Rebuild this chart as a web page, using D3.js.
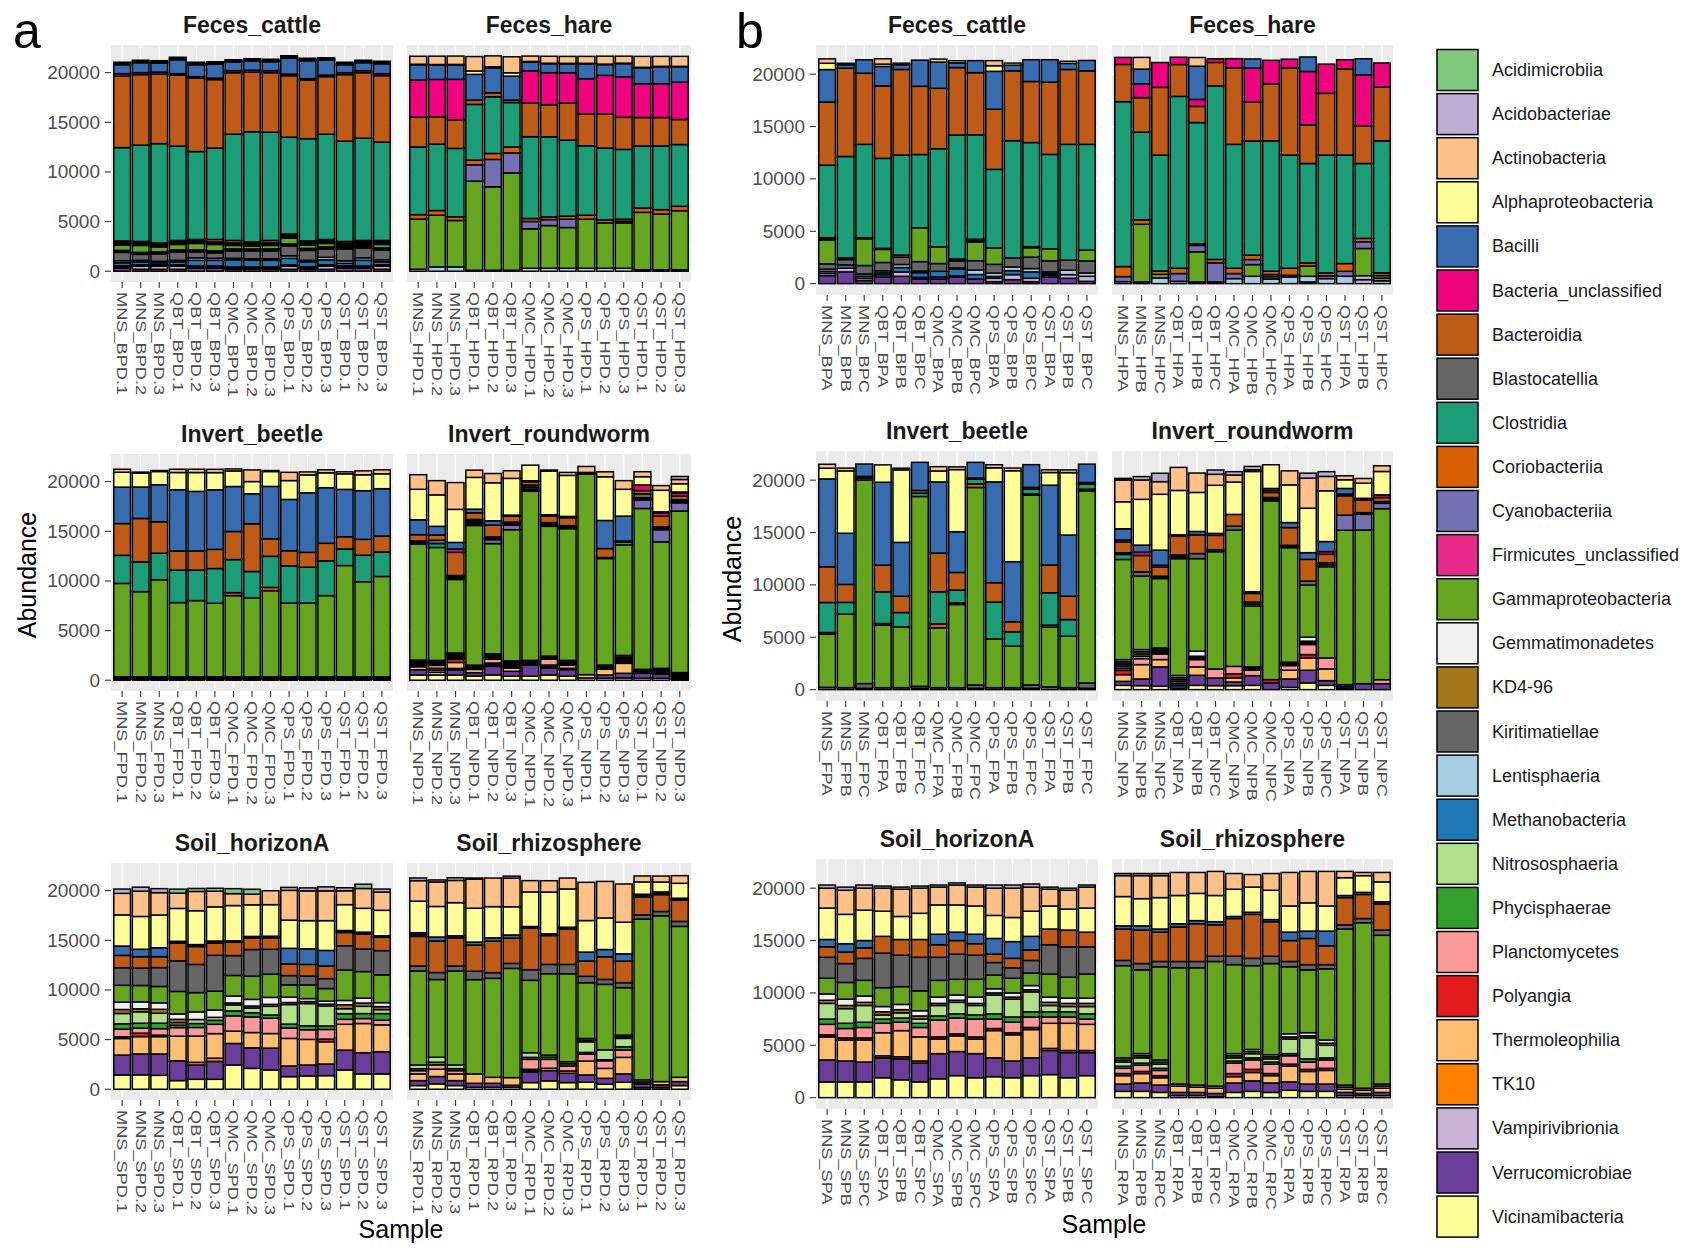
<!DOCTYPE html>
<html>
<head>
<meta charset="utf-8">
<script src="https://cdn.jsdelivr.net/npm/d3@7"></script>
<style>
  body { margin: 0; background: #fff; }
  svg { display: block; font-family: "Liberation Sans", Arial, sans-serif; }
</style>
</head>
<body>
<svg id="chart" width="1689" height="1248"></svg>
<script>
// class order = legend order (first level is stacked on top)
const classes = ["Acidimicrobiia","Acidobacteriae","Actinobacteria","Alphaproteobacteria","Bacilli",
  "Bacteria_unclassified","Bacteroidia","Blastocatellia","Clostridia","Coriobacteriia","Cyanobacteriia",
  "Firmicutes_unclassified","Gammaproteobacteria","Gemmatimonadetes","KD4-96","Kiritimatiellae",
  "Lentisphaeria","Methanobacteria","Nitrososphaeria","Phycisphaerae","Planctomycetes","Polyangia",
  "Thermoleophilia","TK10","Vampirivibrionia","Verrucomicrobiae","Vicinamibacteria"];
const classColors = ["#7FC97F","#BEAED4","#FDC086","#FFFF99","#386CB0","#F0027F","#BF5B17","#666666",
  "#1B9E77","#D95F02","#7570B3","#E7298A","#66A61E","#F0F0F0","#A6761D","#666666","#A6CEE3","#1F78B4",
  "#B2DF8A","#33A02C","#FB9A99","#E31A1C","#FDBF6F","#FF7F00","#CAB2D6","#6A3D9A","#FFFF99"];

const facetNames = ["Feces_cattle","Feces_hare","Invert_beetle","Invert_roundworm","Soil_horizonA","Soil_rhizosphere"];
const sites = ["MNS","QBT","QMC","QPS","QST"];
const codesA = ["_BPD","_HPD","_FPD","_NPD","_SPD","_RPD"];
const repsA = [".1",".2",".3"];
const codesB = ["_BP","_HP","_FP","_NP","_SP","_RP"];
const repsB = ["A","B","C"];
const yTicks = [0,5000,10000,15000,20000];

// ---------- panel a ----------
const aFecesCattle = [
  ["Actinobacteria", [150,150,150,150,150,150,150,150,150,150,150,150,150,150,150]],
  ["Alphaproteobacteria", [100,100,100,100,100,100,100,100,100,100,100,100,100,100,100]],
  ["Bacilli", [900,1000,900,1400,1200,1400,850,900,900,1600,1800,1500,800,800,1000]],
  ["Bacteria_unclassified", [250,200,200,150,150,150,200,200,200,150,150,150,200,200,200]],
  ["Bacteroidia", [7200,7100,7000,7150,7400,6900,6200,6000,6000,6200,5900,5800,6700,6600,6700]],
  ["Clostridia", [9400,9700,10000,9500,8850,9200,10700,11100,10900,9750,10300,10600,10100,10300,9900]],
  ["Coriobacteriia", [150,150,150,150,150,250,250,150,250,150,150,150,150,150,150]],
  ["Cyanobacteriia", [100,100,100,100,100,100,100,100,100,100,100,100,100,100,100]],
  ["Firmicutes_unclassified", [150,150,150,150,150,150,150,150,150,150,150,150,150,150,150]],
  ["Gammaproteobacteria", [550,700,500,550,650,650,350,300,350,600,350,350,150,150,350]],
  ["Gemmatimonadetes", [100,100,100,100,100,100,100,100,100,100,100,100,100,100,100]],
  ["KD4-96", [100,100,100,100,100,100,100,100,100,100,100,100,100,100,100]],
  ["Kiritimatiellae", [850,600,750,850,600,550,750,800,800,1000,1000,850,1200,1000,1000]],
  ["Lentisphaeria", [200,150,150,150,250,200,150,150,150,250,150,250,250,250,200]],
  ["Methanobacteria", [300,300,200,300,550,550,700,650,650,650,500,500,250,550,300]],
  ["Phycisphaerae", [50,50,50,50,50,50,50,50,50,50,50,50,50,50,50]],
  ["Planctomycetes", [50,50,50,50,50,50,50,50,50,50,50,50,50,50,50]],
  ["Thermoleophilia", [50,50,50,50,50,50,50,50,50,50,50,50,50,50,50]],
  ["Vampirivibrionia", [100,300,300,300,100,100,100,100,100,300,100,300,100,100,300]],
  ["Verrucomicrobiae", [300,200,200,200,300,300,200,200,200,200,200,200,300,300,200]]
];
const aFecesHare = [
  ["Actinobacteria", [800,840,840,1450,1100,1610,540,700,700,700,800,700,1100,1000,1000]],
  ["Alphaproteobacteria", [50,50,50,340,100,340,50,50,50,50,50,50,50,50,50]],
  ["Bacilli", [1550,1450,1450,2590,2520,2420,900,900,900,1500,1080,1340,1610,1710,1550]],
  ["Bacteria_unclassified", [3730,3760,4100,0,0,0,3230,3230,3030,3560,3900,4070,3400,3400,3760]],
  ["Bacteroidia", [3000,2760,2860,440,400,240,3400,3230,3760,3200,3430,3230,2860,2860,2520]],
  ["Clostridia", [6820,6690,6890,5610,5710,4470,8240,8070,7660,6990,7230,7030,6250,6420,6220]],
  ["Coriobacteriia", [450,470,370,470,600,600,300,270,300,400,300,200,440,440,440]],
  ["Cyanobacteriia", [0,0,0,1650,2760,2020,740,600,840,0,0,0,0,0,0]],
  ["Firmicutes_unclassified", [0,0,0,0,0,0,0,0,0,0,0,170,0,0,0]],
  ["Gammaproteobacteria", [5050,5200,4670,8970,8400,9800,3970,4300,4100,4940,4570,4570,5780,5610,5950]],
  ["Lentisphaeria", [200,440,440,100,100,100,300,300,300,300,300,300,150,150,150]]
];
const aInvertBeetle = [
  ["Actinobacteria", [300,100,100,330,330,330,200,1170,100,830,300,300,200,400,400]],
  ["Alphaproteobacteria", [1500,1400,1330,1730,1900,1730,1570,1230,1500,1900,1800,1500,1570,1600,1500]],
  ["Bacilli", [3670,3170,3730,6170,6000,6000,4530,3030,5270,5170,6000,5600,4770,4900,4770]],
  ["Bacteroidia", [3200,4370,3170,1930,1930,1930,2830,4800,1770,1530,1500,1770,1230,1600,1600]],
  ["Clostridia", [2830,3000,2670,3270,3070,3500,3330,2670,3130,3730,3600,3500,1670,2670,2470]],
  ["Coriobacteriia", [0,0,0,0,0,0,300,0,330,0,0,0,0,0,0]],
  ["Gammaproteobacteria", [9400,8570,9770,7470,7670,7400,8170,7930,8670,7430,7430,8170,11200,9570,10100]],
  ["Gemmatimonadetes", [50,50,50,50,50,50,50,50,50,50,50,50,50,50,50]],
  ["Kiritimatiellae", [100,100,100,100,100,100,100,100,100,100,100,100,100,100,100]],
  ["Verrucomicrobiae", [100,100,100,100,100,100,100,100,100,100,100,100,100,100,100]],
  ["Vicinamibacteria", [100,100,100,100,100,100,100,100,100,100,100,100,100,100,100]]
];
const aInvertRoundworm = [
  ["Acidobacteriae", [0,0,0,0,0,0,0,0,0,0,0,0,0,0,300]],
  ["Actinobacteria", [1470,1430,2700,730,930,770,0,100,300,600,500,870,500,470,430]],
  ["Alphaproteobacteria", [3070,3170,3330,3200,3830,3700,1570,4400,4130,0,4400,2700,830,2170,830]],
  ["Bacilli", [1500,870,670,370,430,0,0,0,0,0,2830,2500,0,100,100]],
  ["Bacteria_unclassified", [0,0,330,0,0,100,100,130,130,0,0,0,570,330,300]],
  ["Bacteroidia", [630,530,2330,670,1200,600,330,670,800,0,900,0,330,1070,370]],
  ["Blastocatellia", [170,330,130,150,130,100,200,120,100,80,50,130,400,100,110]],
  ["Clostridia", [160,400,130,150,140,100,200,120,100,90,50,270,100,100,110]],
  ["Coriobacteriia", [0,0,140,150,0,100,100,130,100,0,0,0,100,100,100]],
  ["Cyanobacteriia", [0,0,0,0,400,470,0,0,0,0,0,0,870,1230,830]],
  ["Firmicutes_unclassified", [0,0,0,150,0,0,130,0,0,0,0,0,0,0,0]],
  ["Gammaproteobacteria", [11670,11370,7400,14070,11100,13200,17030,13070,13270,20200,10730,11130,16200,12730,16270]],
  ["Gemmatimonadetes", [130,100,130,100,130,150,100,100,100,0,100,160,100,120,140]],
  ["KD4-96", [140,100,130,100,130,150,100,100,100,0,100,160,100,120,130]],
  ["Kiritimatiellae", [130,100,130,100,130,150,100,100,100,0,100,160,100,120,130]],
  ["Lentisphaeria", [130,100,120,70,70,140,70,0,100,0,70,160,50,120,130]],
  ["Methanobacteria", [140,100,120,60,70,140,100,0,70,0,60,160,50,120,140]],
  ["Planctomycetes", [0,300,0,0,400,0,0,600,330,0,0,0,0,0,0]],
  ["Polyangia", [0,200,330,0,110,0,0,100,70,0,0,0,0,0,0]],
  ["Thermoleophilia", [300,200,600,330,110,330,0,100,60,330,570,1000,0,0,0]],
  ["TK10", [0,0,0,0,110,0,0,100,0,0,0,0,0,0,0]],
  ["Vampirivibrionia", [0,270,130,0,0,0,0,0,0,0,0,0,0,0,0]],
  ["Verrucomicrobiae", [530,0,530,330,870,500,1130,700,670,0,330,470,500,400,0]],
  ["Vicinamibacteria", [530,530,530,430,530,400,400,530,400,230,200,230,200,200,100]]
];
const aSoilHorizonA = [
  ["Acidimicrobiia", [0,0,0,400,300,300,500,500,0,0,0,0,0,430,0]],
  ["Acidobacteriae", [430,400,400,0,0,0,0,0,0,300,300,400,300,0,300]],
  ["Actinobacteria", [2170,2550,2250,1540,1940,1570,1200,1070,1400,3000,3000,3000,1400,2000,1840]],
  ["Alphaproteobacteria", [3140,3300,3300,3310,3410,3440,3550,3180,3180,2840,2840,3000,2600,2400,2570]],
  ["Bacilli", [940,750,900,90,100,100,80,80,80,1570,1570,1570,100,100,80]],
  ["Bacteria_unclassified", [0,0,0,80,100,100,70,70,70,0,0,0,100,100,70]],
  ["Bacteroidia", [1240,1150,1100,1800,1800,1240,1340,1170,1170,1170,1170,1270,1340,1500,1340]],
  ["Blastocatellia", [1770,1750,1900,3080,2840,3610,2000,2680,2500,940,900,1000,2440,2270,2440]],
  ["Gammaproteobacteria", [1700,1650,1650,2270,1940,1900,2070,2340,2340,1240,1370,1270,3070,2670,2800]],
  ["Gemmatimonadetes", [740,700,650,540,770,740,700,670,700,540,300,300,430,500,400]],
  ["KD4-96", [400,300,400,330,0,0,200,200,200,200,200,200,400,330,300]],
  ["Nitrososphaeria", [1040,1150,1000,250,400,300,600,470,870,1970,2240,2000,500,730,400]],
  ["Phycisphaerae", [540,500,550,250,400,400,500,430,330,400,400,350,570,500,670]],
  ["Planctomycetes", [770,500,650,870,870,940,1540,1570,1540,1040,970,970,500,500,470]],
  ["Polyangia", [170,350,150,0,0,0,0,0,0,0,0,270,0,0,0]],
  ["Thermoleophilia", [1670,1750,1750,2470,2640,2470,1240,1540,1470,2780,2580,2240,2600,2940,2700]],
  ["TK10", [0,0,0,0,270,330,0,0,0,0,0,0,0,0,0]],
  ["Verrucomicrobiae", [2000,2100,2150,2000,1440,1800,2170,2070,2200,1070,1100,1170,2000,2140,2240]],
  ["Vicinamibacteria", [1440,1450,1400,870,1000,1000,2440,2100,1940,1270,1340,1370,1940,1540,1540]]
];
const aSoilRhizosphere = [
  ["Acidobacteriae", [270,200,270,100,0,200,0,0,0,0,0,0,0,0,0]],
  ["Actinobacteria", [2070,2470,2240,2940,2880,2880,1140,1140,1100,3850,3680,3850,600,600,770]],
  ["Alphaproteobacteria", [3180,3080,3340,3410,3140,2840,3480,4210,3850,3180,3180,3180,1240,1000,1500]],
  ["Bacilli", [190,400,200,300,330,330,90,90,90,900,740,740,130,130,100]],
  ["Bacteria_unclassified", [180,0,0,0,0,0,80,80,80,0,0,0,140,140,100]],
  ["Bacteroidia", [2980,3180,2840,2640,3180,2540,4180,2910,3580,1540,2270,2170,1800,1700,2140]],
  ["Blastocatellia", [500,700,500,840,570,500,1070,940,940,640,500,500,430,430,500]],
  ["Gammaproteobacteria", [9470,7830,9470,9500,9970,11000,7290,8190,8860,5620,6590,4780,16200,16700,15200]],
  ["Gemmatimonadetes", [0,0,0,0,0,0,0,0,0,170,0,170,200,0,0]],
  ["KD4-96", [0,0,0,0,0,0,0,0,0,160,0,160,200,0,0]],
  ["Nitrososphaeria", [370,500,370,0,0,0,470,200,200,1070,1000,840,0,0,0]],
  ["Phycisphaerae", [200,270,200,0,0,0,200,230,230,170,100,330,0,0,0]],
  ["Planctomycetes", [330,430,330,0,0,0,1000,900,500,700,770,740,0,0,0]],
  ["Polyangia", [0,0,0,0,0,0,140,0,0,0,0,0,0,0,0]],
  ["Thermoleophilia", [670,740,670,940,600,770,130,230,230,1400,1000,1670,0,330,430]],
  ["Verrucomicrobiae", [500,740,500,400,400,200,1070,1040,940,740,600,840,370,270,400]],
  ["Vicinamibacteria", [370,540,370,200,200,200,670,840,670,700,500,700,170,170,370]]
];

// ---------- panel b ----------
const bFecesCattle = [
  ["Actinobacteria", [420,0,0,510,0,0,290,0,0,480,0,0,0,0,0]],
  ["Alphaproteobacteria", [600,150,0,220,150,0,0,200,0,540,200,0,0,200,0]],
  ["Bacilli", [3100,320,1280,1860,450,2500,2500,450,1150,3620,540,2080,2150,580,990]],
  ["Bacteroidia", [6030,8430,6790,6920,8170,6510,5770,6440,5930,5740,6670,5830,6890,7150,7020]],
  ["Clostridia", [6920,9680,8910,8590,9550,6990,9360,11830,9970,7500,11190,9940,9010,11060,10100]],
  ["Coriobacteriia", [100,160,100,100,200,0,0,110,130,0,0,100,0,0,0]],
  ["Cyanobacteriia", [120,0,0,0,0,0,0,110,130,0,0,0,0,0,0]],
  ["Gammaproteobacteria", [2280,0,2560,1250,0,3240,1600,0,1790,1570,0,900,1150,0,1030]],
  ["Kiritimatiellae", [510,510,800,800,700,900,740,640,900,830,870,1090,1060,960,1150]],
  ["Lentisphaeria", [200,0,210,190,290,150,0,110,420,320,350,320,160,420,320]],
  ["Methanobacteria", [200,320,220,190,420,450,540,640,420,180,380,610,160,0,0]],
  ["Vampirivibrionia", [210,350,210,200,420,150,190,110,0,320,480,320,160,350,480]],
  ["Verrucomicrobiae", [770,1120,290,640,700,450,450,640,450,190,380,190,640,510,220]]
];
const bFecesHare = [
  ["Actinobacteria", [0,1120,0,0,830,0,0,0,0,0,0,0,0,0,0]],
  ["Bacilli", [0,1410,0,0,3170,0,0,870,0,0,1380,0,0,1540,0]],
  ["Bacteria_unclassified", [670,1310,2370,700,670,350,870,3240,2240,830,5100,2790,870,4900,2310]],
  ["Bacteroidia", [3560,3300,6470,3040,1540,2240,7310,3720,5450,8330,3690,5900,8240,3560,5130]],
  ["Clostridia", [15740,8370,11060,16410,11570,16570,11830,10900,12440,10800,9490,11250,10350,7150,12600]],
  ["Coriobacteriia", [960,420,320,510,160,320,510,420,320,670,290,270,740,320,260]],
  ["Cyanobacteriia", [480,0,0,740,610,1830,480,480,200,160,0,270,480,640,250]],
  ["Gammaproteobacteria", [0,5510,350,0,2880,0,0,1120,220,0,990,0,0,2600,250]],
  ["Lentisphaeria", [190,160,540,220,160,160,480,700,450,640,540,480,700,380,270]],
  ["Vampirivibrionia", [0,0,0,0,0,0,0,0,0,0,160,0,0,380,0]]
];
const bInvertBeetle = [
  ["Actinobacteria", [380,260,0,0,160,0,410,260,0,290,260,0,260,260,0]],
  ["Alphaproteobacteria", [1020,5960,0,1660,6920,0,1050,5930,0,1340,8680,0,1210,5960,0]],
  ["Bacilli", [8390,4880,1180,7910,5140,2680,6790,3890,1500,9630,5740,2170,7620,5840,1750]],
  ["Bacteroidia", [3410,1720,160,2550,1560,260,3700,1690,100,1850,960,160,2650,2230,160]],
  ["Clostridia", [2870,1120,190,3030,1370,320,3060,1210,450,3510,1370,450,3090,1590,480]],
  ["Coriobacteriia", [160,0,0,160,0,0,380,160,350,0,0,130,190,0,160]],
  ["Gammaproteobacteria", [5070,7020,19430,5960,5800,18120,5710,7940,18850,4660,3960,18120,5710,4910,18340]],
  ["Kiritimatiellae", [220,190,450,190,190,190,190,190,320,190,190,320,260,190,510]],
  ["Verrucomicrobiae", [0,0,130,0,0,130,0,0,130,0,0,130,0,0,130]]
];
const bInvertRoundworm = [
  ["Acidobacteriae", [150,320,800,0,0,410,320,320,0,0,480,450,0,0,0]],
  ["Actinobacteria", [2080,1850,1210,2200,1850,1050,670,160,0,1340,2870,1370,380,450,540]],
  ["Alphaproteobacteria", [2580,4370,5330,4240,3730,4590,3090,11480,2260,3600,4240,4850,830,1440,2230]],
  ["Bacilli", [1080,670,1440,100,320,0,0,160,190,480,640,960,540,80,0]],
  ["Bacteria_unclassified", [190,320,190,0,0,190,0,0,190,0,0,260,160,80,260]],
  ["Bacteroidia", [1020,1560,860,1820,1790,1370,1120,830,480,1690,2070,800,1850,1210,380]],
  ["Blastocatellia", [160,410,110,180,480,190,380,190,160,110,380,190,0,80,90]],
  ["Clostridia", [480,0,110,170,0,0,0,190,160,110,0,190,0,80,80]],
  ["Cyanobacteriia", [0,0,0,0,0,0,0,0,0,0,0,0,1440,1500,510]],
  ["Gammaproteobacteria", [9570,7020,6630,11160,8840,11200,13010,5810,17070,10940,4980,8710,14740,14670,16330]],
  ["Gemmatimonadetes", [200,200,150,200,480,0,0,110,0,110,380,0,160,0,0]],
  ["KD4-96", [200,220,140,190,160,0,0,110,0,110,160,0,160,0,0]],
  ["Kiritimatiellae", [200,220,140,190,160,0,0,100,0,100,160,0,160,0,0]],
  ["Lentisphaeria", [200,220,140,190,0,0,0,0,0,0,0,0,0,0,0]],
  ["Methanobacteria", [220,0,0,190,0,0,0,0,0,0,0,0,0,0,0]],
  ["Planctomycetes", [0,570,540,0,700,860,700,510,0,450,960,1050,0,0,380]],
  ["Polyangia", [410,0,0,0,0,0,410,0,320,0,320,0,0,0,0]],
  ["Thermoleophilia", [640,1370,700,0,800,0,380,0,0,830,1180,1120,0,0,0]],
  ["Verrucomicrobiae", [380,640,1850,260,960,730,350,930,640,800,1210,450,0,570,570]],
  ["Vicinamibacteria", [410,380,320,130,410,380,380,410,0,220,640,410,0,0,0]]
];
const bSoilHorizonA = [
  ["Acidimicrobiia", [0,0,0,200,200,200,200,200,200,0,0,0,200,200,200]],
  ["Acidobacteriae", [300,300,300,0,0,0,0,0,0,300,300,300,0,0,0]],
  ["Actinobacteria", [1900,2300,2100,2200,2600,2400,1700,1900,1800,2600,2800,2300,1600,1800,2000]],
  ["Alphaproteobacteria", [3000,2800,2900,2400,2200,2500,2800,2600,2700,2200,2300,2400,2200,2000,2300]],
  ["Bacilli", [700,800,700,0,0,0,1000,800,900,1500,1600,1300,0,0,0]],
  ["Bacteroidia", [1000,1100,1000,1600,1500,1700,1200,1300,1100,800,900,1000,1500,1600,1400]],
  ["Blastocatellia", [2000,1800,2100,3300,3000,3200,2200,2400,2300,1200,1000,1200,2800,2900,2600]],
  ["Gammaproteobacteria", [1500,1600,1500,1800,1700,1900,1600,1500,1700,1300,1400,1200,2200,2000,2300]],
  ["Gemmatimonadetes", [600,600,600,500,500,500,600,500,600,400,400,400,500,500,500]],
  ["KD4-96", [300,300,300,300,300,300,200,200,200,200,200,200,300,300,300]],
  ["Nitrososphaeria", [1500,1400,1600,400,500,400,1000,1100,900,1800,1700,1900,600,500,700]],
  ["Phycisphaerae", [500,500,500,400,400,400,400,400,400,500,500,500,500,500,500]],
  ["Planctomycetes", [1000,900,1000,900,800,900,1600,1500,1700,900,1000,1000,600,600,500]],
  ["Polyangia", [200,200,200,0,0,0,200,200,200,200,200,200,0,0,0]],
  ["Thermoleophilia", [2200,2000,2100,2200,2500,2300,1400,1500,1400,2600,2500,2700,2400,2600,2500]],
  ["TK10", [0,0,0,200,200,200,0,0,0,0,0,0,200,200,200]],
  ["Verrucomicrobiae", [2100,2000,1900,1900,2000,1800,2400,2300,2300,1800,1600,1700,2300,2400,2200]],
  ["Vicinamibacteria", [1500,1500,1500,1900,1700,1500,1800,2100,1900,2000,1900,2100,2200,1900,2100]]
];
const bSoilRhizosphere = [
  ["Acidobacteriae", [200,200,200,0,0,0,0,0,0,0,0,0,0,0,0]],
  ["Actinobacteria", [2000,2200,2100,2200,2000,2300,1500,1200,1600,3200,3000,3300,600,300,900]],
  ["Alphaproteobacteria", [2800,2600,3000,2700,2600,2500,2600,2400,2800,2500,2700,2400,1700,1600,1900]],
  ["Bacilli", [300,400,300,300,300,300,200,200,200,800,700,1400,200,200,200]],
  ["Bacteroidia", [3000,3200,2800,3300,3600,3000,3600,4200,3300,2000,2500,1800,2600,2300,2500]],
  ["Blastocatellia", [500,600,500,600,600,500,800,700,700,500,500,400,400,400,500]],
  ["Gammaproteobacteria", [8800,8000,8900,11100,11200,11900,8500,8000,8700,6400,6000,6800,14900,15800,14200]],
  ["Gemmatimonadetes", [200,200,200,0,0,0,200,200,200,300,300,300,0,0,0]],
  ["KD4-96", [200,200,200,0,0,0,200,200,200,200,200,200,200,200,200]],
  ["Nitrososphaeria", [400,500,400,0,0,0,300,400,300,1400,2000,1200,0,0,0]],
  ["Phycisphaerae", [200,200,200,0,0,0,200,200,200,200,300,200,0,0,0]],
  ["Planctomycetes", [500,600,500,200,200,200,1000,900,900,800,700,800,200,0,200]],
  ["Polyangia", [200,200,200,0,0,0,300,300,200,200,200,200,0,0,0]],
  ["Thermoleophilia", [800,900,700,600,500,500,600,800,700,1500,1200,1300,300,300,400]],
  ["Verrucomicrobiae", [700,800,700,300,300,300,900,1000,900,800,700,700,300,200,300]],
  ["Vicinamibacteria", [600,600,500,200,200,100,500,600,500,700,600,600,200,200,200]]
];

const panels = [
  { letter: "a", letterX: 13, facets: [aFecesCattle, aFecesHare, aInvertBeetle, aInvertRoundworm, aSoilHorizonA, aSoilRhizosphere],
    codes: codesA, reps: repsA, cols: [[111, 393], [407, 691]], rowTops: [45, 454, 863], rowH: 237,
    yTitle: [27, 575], xTitle: [401, 1238] },
  { letter: "b", letterX: 736, facets: [bFecesCattle, bFecesHare, bInvertBeetle, bInvertRoundworm, bSoilHorizonA, bSoilRhizosphere],
    codes: codesB, reps: repsB, cols: [[816, 1098], [1112, 1393]], rowTops: [45, 451, 859], rowH: 250,
    yTitle: [732, 579], xTitle: [1104, 1233] }
];

const svg = d3.select("#chart");
svg.append("rect").attr("width", 1689).attr("height", 1248).attr("fill", "#fff");

function barValue(facet, cls, i) {
  const row = facet.find(r => r[0] === cls);
  return row ? row[1][i] : 0;
}

function drawPanel(p) {
  const g = svg.append("g");
  // shared y scale over all facets of the panel
  let maxTotal = 0;
  p.facets.forEach(f => {
    for (let i = 0; i < 15; i++) {
      const tot = d3.sum(f, r => r[1][i]);
      if (tot > maxTotal) maxTotal = tot;
    }
  });

  g.append("text").attr("x", p.letterX).attr("y", 48)
    .attr("font-size", 50).attr("fill", "#000").text(p.letter);

  p.facets.forEach((facet, fi) => {
    const col = fi % 2, row = Math.floor(fi / 2);
    const [x0, x1] = p.cols[col];
    const top = p.rowTops[row], bottom = top + p.rowH;
    const y = d3.scaleLinear().domain([-0.05 * maxTotal, 1.05 * maxTotal]).range([bottom, top]);
    const x = d3.scaleLinear().domain([0.4, 15.6]).range([x0, x1]);
    const bw = 0.9 * (x(1) - x(0));
    const labels = [];
    sites.forEach(s => p.reps.forEach(r => labels.push(s + p.codes[fi] + r)));

    const fg = g.append("g");
    fg.append("rect").attr("x", x0).attr("y", top).attr("width", x1 - x0).attr("height", p.rowH).attr("fill", "#EBEBEB");
    // grid
    [2500, 7500, 12500, 17500].forEach(v => {
      fg.append("line").attr("x1", x0).attr("x2", x1).attr("y1", y(v)).attr("y2", y(v))
        .attr("stroke", "#fff").attr("stroke-width", 0.6);
    });
    yTicks.forEach(v => {
      fg.append("line").attr("x1", x0).attr("x2", x1).attr("y1", y(v)).attr("y2", y(v))
        .attr("stroke", "#fff").attr("stroke-width", 1.2);
    });
    labels.forEach((l, i) => {
      fg.append("line").attr("x1", x(i + 1)).attr("x2", x(i + 1)).attr("y1", top).attr("y2", bottom)
        .attr("stroke", "#fff").attr("stroke-width", 1.2);
    });

    // stacked bars: last class at the bottom
    labels.forEach((l, i) => {
      let cum = 0;
      for (let c = classes.length - 1; c >= 0; c--) {
        const v = barValue(facet, classes[c], i);
        if (!v) continue;
        fg.append("rect")
          .attr("x", x(i + 1) - bw / 2).attr("width", bw)
          .attr("y", y(cum + v)).attr("height", y(cum) - y(cum + v))
          .attr("fill", classColors[c]).attr("stroke", "#000").attr("stroke-width", 1.5);
        cum += v;
      }
    });

    // title
    fg.append("text").attr("x", (x0 + x1) / 2).attr("y", top - 12)
      .attr("text-anchor", "middle").attr("font-size", 23).attr("font-weight", "bold")
      .attr("fill", "#1A1A1A").text(facetNames[fi]);

    // x axis
    labels.forEach((l, i) => {
      fg.append("line").attr("x1", x(i + 1)).attr("x2", x(i + 1)).attr("y1", bottom).attr("y2", bottom + 6)
        .attr("stroke", "#333").attr("stroke-width", 1.1);
      fg.append("text")
        .attr("transform", `translate(${x(i + 1)},${bottom + 10}) rotate(90) scale(1.3,1)`)
        .attr("font-size", 14).attr("fill", "#4D4D4D").attr("dominant-baseline", "central")
        .text(l);
    });

    // y axis on left column only
    if (col === 0) {
      yTicks.forEach(v => {
        fg.append("line").attr("x1", x0 - 6).attr("x2", x0).attr("y1", y(v)).attr("y2", y(v))
          .attr("stroke", "#333").attr("stroke-width", 1.1);
        fg.append("text").attr("x", x0 - 11).attr("y", y(v)).attr("text-anchor", "end")
          .attr("dominant-baseline", "central").attr("font-size", 19).attr("fill", "#4D4D4D").text(v);
      });
    }
  });

  g.append("text").attr("transform", `translate(${p.yTitle[0]},${p.yTitle[1]}) rotate(-90)`)
    .attr("text-anchor", "middle").attr("dominant-baseline", "central")
    .attr("font-size", 25).attr("fill", "#000").text("Abundance");
  g.append("text").attr("x", p.xTitle[0]).attr("y", p.xTitle[1]).attr("text-anchor", "middle")
    .attr("font-size", 25).attr("fill", "#000").text("Sample");
}

panels.forEach(drawPanel);

// legend
const legend = svg.append("g");
classes.forEach((c, i) => {
  const cy = 70 + i * 44.1;
  legend.append("rect").attr("x", 1437).attr("y", cy - 20.5).attr("width", 41).attr("height", 41)
    .attr("fill", classColors[i]).attr("stroke", "#000").attr("stroke-width", 1.5);
  legend.append("text").attr("x", 1492).attr("y", cy).attr("dominant-baseline", "central")
    .attr("font-size", 18).attr("fill", "#1A1A1A").text(c);
});
</script>
</body>
</html>
